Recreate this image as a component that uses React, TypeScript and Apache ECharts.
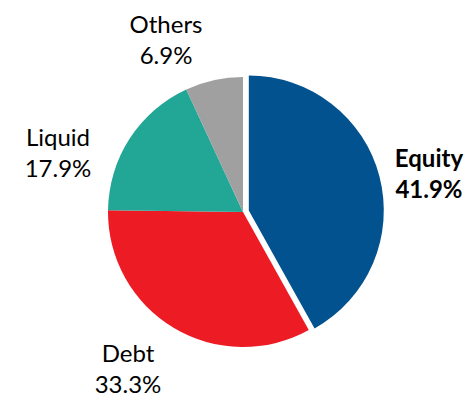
import React, { useEffect, useRef } from "react";
import * as echarts from "echarts";

const categories = ["Equity", "Debt", "Liquid", "Others"];
const shares = [41.9, 33.3, 17.9, 6.9];
const colors = ["#02528f", "#ed1c24", "#22a696", "#a0a0a0"];
// label anchor points (centre of each two-line label), in pixels
const labelAnchors: [number, number][] = [
  [430, 169],
  [128, 368],
  [58, 152],
  [166, 39],
];

export default function App() {
  const ref = useRef<HTMLDivElement>(null);
  useEffect(() => {
    if (!ref.current) return;
    const chart = echarts.init(ref.current, undefined, { renderer: "svg" });
    chart.setOption({
      animation: false,
      backgroundColor: "#ffffff",
      series: [
        {
          type: "pie",
          center: [243, 212],
          radius: 135,
          startAngle: 90,
          clockwise: true,
          selectedMode: "single",
          selectedOffset: 6,
          avoidLabelOverlap: false,
          emphasis: { disabled: true },
          itemStyle: { borderWidth: 0 },
          label: {
            show: true,
            position: "outside",
            fontFamily: "Lato",
            fontSize: 24,
            lineHeight: 31,
            color: "#000000",
            formatter: (p: any) => `${p.name}\n${Number(p.value).toFixed(1)}%`,
          },
          labelLine: { show: false },
          labelLayout: (p: any) => {
            const a = labelAnchors[p.dataIndex];
            return { x: a[0], y: a[1], align: "center", verticalAlign: "middle" };
          },
          data: categories.map((c, i) => ({
            name: c,
            value: shares[i],
            selected: i === 0,
            itemStyle: { color: colors[i] },
            select: { itemStyle: { color: colors[i] }, label: { fontWeight: i === 0 ? "bold" : "normal" } },
            label: { fontWeight: i === 0 ? "bold" : "normal" },
          })),
        },
      ],
    });
    return () => chart.dispose();
  }, []);
  return (
    <div
      ref={ref}
      style={{ position: "fixed", left: 0, top: 0, width: 468, height: 398 }}
    />
  );
}
